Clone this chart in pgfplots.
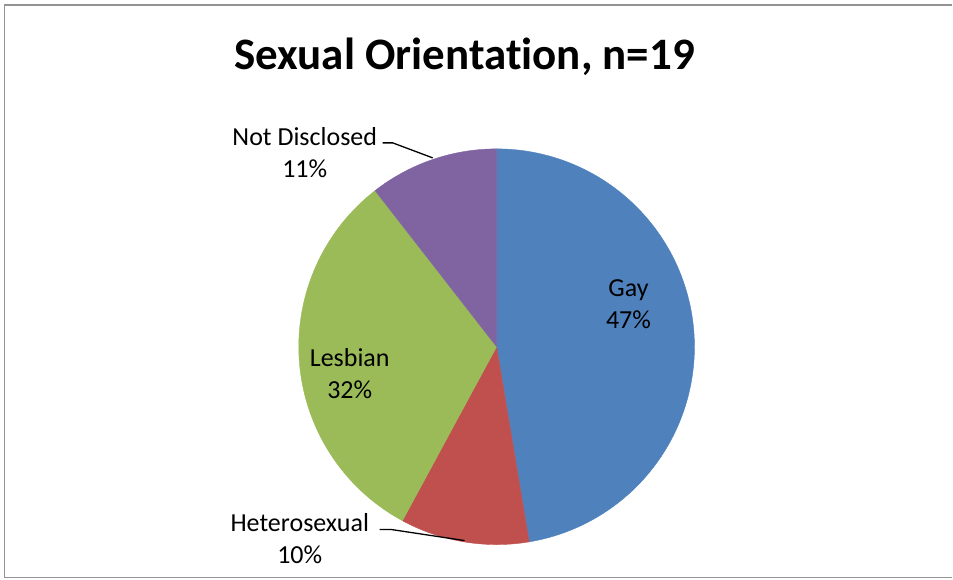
\documentclass[border=0pt]{standalone}
\usepackage{pgfplots}
\pgfplotsset{compat=1.18}
\usepackage{pgfplotstable}
\usepackage{fontspec}
\setmainfont{Carlito}[Ligatures=NoCommon]

\definecolor{cGay}{HTML}{4F81BD}
\definecolor{cHet}{HTML}{C0504D}
\definecolor{cLes}{HTML}{9BBB59}
\definecolor{cNot}{HTML}{8064A2}

\tikzset{slicelabel/.style={align=center, inner sep=0pt, font=\fontsize{26}{32}\selectfont}}

% counts out of n=19, in Excel's clockwise order from 12 o'clock
\pgfplotstableread{
label        count pct
Gay          9     47
Heterosexual 2     10
Lesbian      6     32
NotDisclosed 2     11
}\piedata

\pgfplotstablegetelem{0}{count}\of\piedata \let\cA\pgfplotsretval
\pgfplotstablegetelem{1}{count}\of\piedata \let\cB\pgfplotsretval
\pgfplotstablegetelem{2}{count}\of\piedata \let\cC\pgfplotsretval
\pgfplotstablegetelem{3}{count}\of\piedata \let\cD\pgfplotsretval
\pgfmathsetmacro\tot{\cA+\cB+\cC+\cD}
\pgfmathsetmacro\aA{90}
\pgfmathsetmacro\aB{\aA-360*\cA/\tot}
\pgfmathsetmacro\aC{\aB-360*\cB/\tot}
\pgfmathsetmacro\aD{\aC-360*\cC/\tot}
\pgfmathsetmacro\aE{\aD-360*\cD/\tot}
\def\cx{497}\def\cy{233}\def\rr{198}

\begin{document}
\begin{tikzpicture}
\begin{axis}[
    x=1pt, y=1pt,
    xmin=0, xmax=953, ymin=0, ymax=580,
    hide axis, clip=false,
    every axis plot/.append style={samples=90, smooth, line width=0.4pt, line join=round},
]
\path (axis cs:0,0) rectangle (axis cs:953,580);
% frame (right edge is cut off in the original)
\draw[gray!85, line width=1.5pt] (axis cs:953,575) -- (axis cs:4.5,575) -- (axis cs:4.5,2) -- (axis cs:953,2);

\addplot[fill=cGay, draw=cGay, domain=\aB:\aA, variable=\t] ({\cx+\rr*cos(\t)},{\cy+\rr*sin(\t)}) -- (axis cs:\cx,\cy) -- cycle;
\addplot[fill=cHet, draw=cHet, domain=\aC:\aB, variable=\t] ({\cx+\rr*cos(\t)},{\cy+\rr*sin(\t)}) -- (axis cs:\cx,\cy) -- cycle;
\addplot[fill=cLes, draw=cLes, domain=\aD:\aC, variable=\t] ({\cx+\rr*cos(\t)},{\cy+\rr*sin(\t)}) -- (axis cs:\cx,\cy) -- cycle;
\addplot[fill=cNot, draw=cNot, domain=\aE:\aD, variable=\t] ({\cx+\rr*cos(\t)},{\cy+\rr*sin(\t)}) -- (axis cs:\cx,\cy) -- cycle;

\node[font=\fontsize{45}{54}\selectfont\bfseries, anchor=base] at (axis cs:465,510) {Sexual Orientation, n=19};

\node[slicelabel] at (axis cs:629,276) {Gay\\47\%};
\node[slicelabel] at (axis cs:350,206) {Lesbian\\32\%};
\node[slicelabel] at (axis cs:305,427) {Not Disclosed\\11\%};
\node[slicelabel] at (axis cs:300,41) {Heterosexual\\10\%};

\draw[black, line width=1.3pt] (axis cs:383,437) -- (axis cs:393,437) -- (axis cs:433,422);
\draw[black, line width=1.3pt] (axis cs:380,50) -- (axis cs:392,50) -- (axis cs:465,39);
\end{axis}
\end{tikzpicture}
\end{document}
